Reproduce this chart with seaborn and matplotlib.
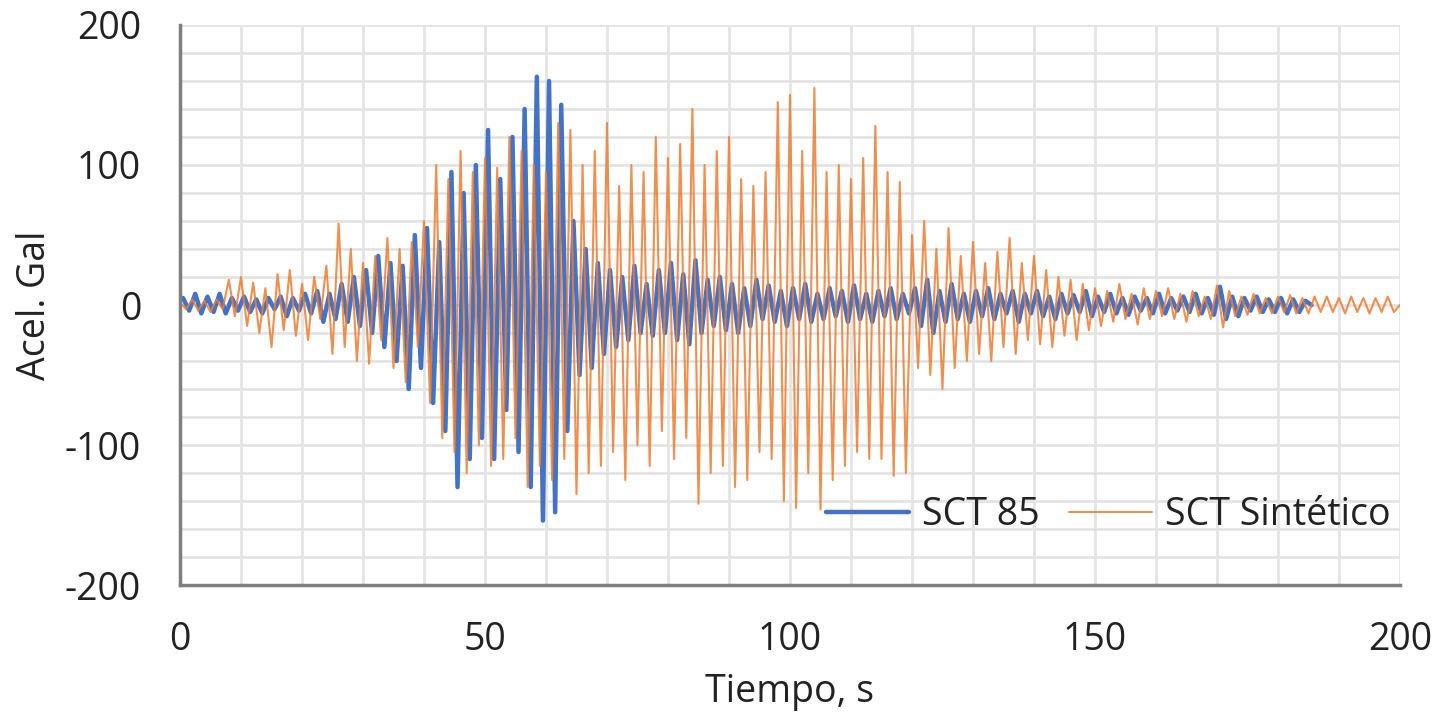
import numpy as np
import pandas as pd
import matplotlib
matplotlib.use("Agg")
import matplotlib.pyplot as plt
import seaborn as sns
from matplotlib.ticker import MultipleLocator

# ------- DATA (peak values, Gal) ----------------------------
# SCT 85 record, one extreme every dt_sct seconds starting at t0_sct
t0_sct = 0.5
dt_sct = 1.0
acc_sct85 = [
    5, -4, 8, -6, 6, -5, 8, -6, 5, -4,
    6, -5, 4, -6, 5, -3, 6, -8, 5, -4,
    8, -6, 10, -12, 8, -10, 15, -12, 20, -15,
    25, -20, 35, -30, 30, -40, 28, -60, 50, -45,
    55, -70, 45, -90, 95, -130, 80, -110, 100, -95,
    125, -110, 90, -75, 120, -105, 140, -130, 163, -154,
    160, -148, 143, -90, 60, -50, 40, -45, 30, -35,
    25, -30, 20, -25, 28, -20, 15, -22, 25, -20,
    30, -25, 22, -28, 32, -20, 18, -15, 20, -18,
    15, -20, 12, -15, 18, -10, 14, -12, 10, -15,
    12, -10, 15, -12, 8, -10, 12, -8, 10, -12,
    14, -10, 8, -12, 10, -8, 12, -10, 8, -6,
    12, -15, 18, -20, 10, -12, 15, -10, 8, -12,
    10, -8, 12, -10, 8, -6, 10, -12, 8, -6,
    10, -8, 6, -10, 8, -6, 7, -5, 10, -8,
    6, -5, 8, -6, 5, -7, 6, -4, 5, -6,
    8, -6, 5, -4, 6, -5, 8, -6, 5, -7,
    13, -10, 6, -8, 5, -4, 6, -5, 4, -5,
    5, -6, 4, -5, 3, 0,
]

# SCT synthetic record
t0_sint = 0.0
dt_sint = 1.0
acc_sintetico = [
    2, -3, 4, -4, 3, -5, 4, -3, 18, -8,
    20, -15, 16, -20, 12, -30, 22, -18, 25, -22,
    15, -25, 20, -10, 28, -35, 58, -30, 40, -40,
    30, -42, 35, -25, 48, -45, 40, -55, 45, -30,
    60, -70, 100, -95, 90, -105, 110, -120, 95, -100,
    105, -115, 98, -110, 120, -95, 110, -130, 100, -115,
    95, -125, 130, -110, 125, -135, 100, -120, 110, -115,
    130, -105, 85, -125, 100, -100, 95, -115, 120, -90,
    105, -110, 115, -95, 140, -142, 100, -120, 110, -115,
    120, -130, 90, -125, 85, -105, 95, -110, 145, -140,
    150, -145, 110, -120, 155, -146, 95, -125, 100, -115,
    90, -105, 105, -110, 128, -110, 95, -122, 88, -120,
    50, -45, 60, -50, 40, -60, 55, -45, 35, -40,
    45, -35, 30, -40, 38, -30, 48, -35, 30, -25,
    35, -28, 25, -30, 20, -22, 18, -25, 15, -18,
    12, -15, 10, -12, 15, -10, 8, -14, 12, -10,
    10, -8, 12, -10, 8, -12, 10, -8, 6, -10,
    14, -16, 10, -8, 6, -7, 8, -6, 5, -6,
    6, -5, 7, -6, 5, -6, 6, -5, 6, -5,
    5, -6, 6, -5, 5, -6, 5, -5, 6, -5, 0,
]

x_ticks = [0, 50, 100, 150, 200]
y_ticks = [-200, -100, 0, 100, 200]

df_sct = pd.DataFrame({"t": t0_sct + dt_sct * np.arange(len(acc_sct85)), "acc": acc_sct85})
df_sint = pd.DataFrame({"t": t0_sint + dt_sint * np.arange(len(acc_sintetico)), "acc": acc_sintetico})

# ------- PLOT ---------
sns.set_style("white")
plt.rcParams["font.family"] = ["Open Sans", "DejaVu Sans"]
plt.rcParams["axes.unicode_minus"] = False

fig = plt.figure(figsize=(14.4, 7.18), dpi=100)
ax = fig.add_axes([0.125, 0.1852, 0.8472, 0.78])

sns.lineplot(data=df_sct, x="t", y="acc", ax=ax, color="#4472C4", lw=3.2,
             estimator=None, label="SCT 85")
sns.lineplot(data=df_sint, x="t", y="acc", ax=ax, color="#ED7D31", lw=1.5,
             alpha=0.85, estimator=None, label="SCT Sintético")

ax.set_xlim(0, 200)
ax.set_ylim(-200, 200)
ax.set_xticks(x_ticks)
ax.set_yticks(y_ticks)
ax.xaxis.set_minor_locator(MultipleLocator(10))
ax.yaxis.set_minor_locator(MultipleLocator(20))
ax.grid(which="both", color="#e4e4e4", lw=2.0)
ax.set_axisbelow(True)

for side in ["top", "right"]:
    ax.spines[side].set_visible(False)
for side in ["left", "bottom"]:
    ax.spines[side].set_color("#7f7f7f")
    ax.spines[side].set_linewidth(2.5)

ax.tick_params(which="major", direction="inout", length=16, width=2.5,
               color="#7f7f7f", labelsize=27, labelcolor="#222222", pad=18)
ax.tick_params(axis="y", which="major", pad=20)
ax.tick_params(which="minor", length=0)

ax.set_xlabel("Tiempo, s", fontsize=27, color="#222222", labelpad=10)
ax.set_ylabel("Acel. Gal", fontsize=27, color="#222222", labelpad=8)

leg = ax.legend(loc="lower right", bbox_to_anchor=(1.02, 0.03), ncol=2, frameon=False,
                fontsize=27, handlelength=2.2, columnspacing=0.8, handletextpad=0.35)
for txt in leg.get_texts():
    txt.set_color("#222222")

fig.savefig("out.png", dpi=100)
